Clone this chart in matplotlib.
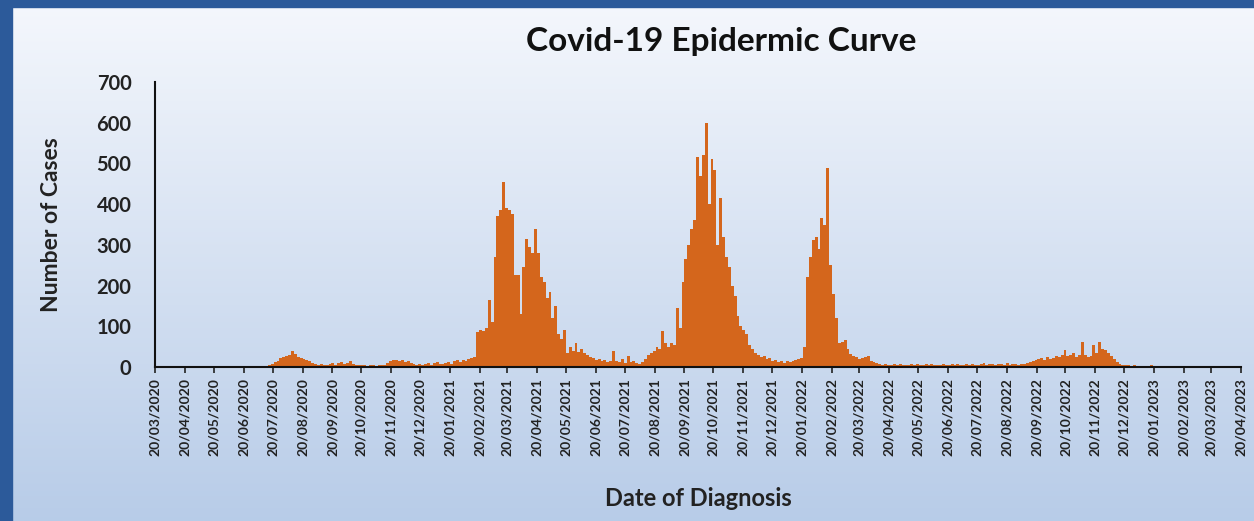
import numpy as np
import pandas as pd
import matplotlib
matplotlib.use("Agg")
import matplotlib.pyplot as plt
import matplotlib.dates as mdates
from matplotlib.patches import Rectangle

start_date = "2020-03-20"
end_date = "2023-04-20"
bin_days = 3

cases_2020 = [0, 1, 0, 2, 1, 0, 1, 3, 1, 0, 1, 2, 0, 1, 3, 2, 1, 0, 1, 2,
              1, 0, 2, 1, 1, 3, 0, 2, 1, 1, 2, 1, 0, 1, 2, 3, 1, 2, 2, 4,
              8, 12, 15, 22, 25, 28, 30, 40, 32, 25,
              22, 20, 18, 15, 10, 8, 6, 7, 5, 6,
              8, 10, 6, 9, 12, 7, 10, 14, 8, 6,
              5, 4, 6, 3, 5, 4, 3, 5, 4, 6,
              10, 14, 16, 18, 15, 17, 12, 14, 10, 8,
              6, 8, 5, 7, 10, 6, 9, 12, 7, 8]
cases_2021 = [10, 12, 8, 14, 16, 12, 18, 15, 20, 22,
              25, 85, 92, 88, 95, 165, 110, 270, 370, 385,
              455, 390, 385, 375, 225, 225, 130, 245, 315, 295,
              280, 340, 280, 220, 210, 170, 185, 120, 150, 80,
              70, 90, 35, 50, 40, 60, 38, 45, 35, 30,
              25, 22, 18, 20, 15, 18, 12, 14, 40, 15,
              12, 20, 10, 28, 12, 15, 10, 8, 12, 20,
              30, 35, 40, 50, 45, 88, 60, 50, 58, 55,
              145, 95, 210, 265, 300, 340, 360, 515, 470, 520,
              600, 400, 510, 485, 300, 415, 320, 270, 245, 200,
              175, 125, 100, 90, 80, 55, 45, 35, 30, 25,
              28, 20, 22, 15, 18, 12, 15, 10, 14, 12]
cases_2022 = [15, 18, 20, 22, 50, 222, 270, 312, 320, 290,
              365, 350, 490, 250, 180, 120, 58, 62, 66, 45,
              33, 28, 25, 20, 22, 25, 28, 15, 12, 10,
              8, 6, 7, 5, 6, 8, 5, 7, 6, 5,
              6, 7, 5, 8, 6, 5, 7, 6, 8, 5,
              6, 5, 7, 6, 5, 8, 6, 7, 5, 6,
              7, 6, 8, 5, 6, 7, 9, 6, 8, 7,
              6, 8, 7, 5, 9, 6, 8, 7, 6, 8,
              8, 10, 12, 15, 18, 20, 22, 18, 25, 20,
              22, 28, 25, 30, 41, 28, 30, 35, 25, 30,
              61, 30, 25, 28, 53, 35, 61, 45, 41, 35,
              28, 20, 12, 8, 5, 4, 5, 3, 4, 3]
cases_2023 = [2, 3, 1, 2, 4, 2, 1, 3, 2, 1,
              2, 1, 3, 2, 1, 2, 1, 2, 3, 1,
              2, 1, 1, 2, 3, 1, 2, 1, 2, 1,
              1, 2, 1, 1, 2, 1]

y_ticks = [0, 100, 200, 300, 400, 500, 600, 700]
title = "Covid-19 Epidermic Curve"
x_title = "Date of Diagnosis"
y_title = "Number of Cases"

cases = cases_2020 + cases_2021 + cases_2022 + cases_2023
bin_starts = pd.Timestamp(start_date) + pd.to_timedelta(np.arange(len(cases)) * bin_days, unit="D")
month_ticks = pd.date_range(start_date, end_date, freq=pd.DateOffset(months=1))
tick_labels = [d.strftime("%d/%m/%Y") for d in month_ticks]

plt.rcParams["font.family"] = ["Lato", "DejaVu Sans"]

fig = plt.figure(figsize=(12.54, 5.21), dpi=100)

# gradient backdrop with the blue frame
bg = fig.add_axes([0, 0, 1, 1], zorder=-10)
grad = np.linspace(0, 1, 256)[:, None]
top_col = np.array([0.96, 0.97, 0.99])
bot_col = np.array([0.72, 0.80, 0.91])
img = top_col[None, None, :] * (1 - grad[:, :, None]) + bot_col[None, None, :] * grad[:, :, None]
bg.imshow(img, aspect="auto", extent=[0, 1, 0, 1])
bg.add_patch(Rectangle((0, 0), 12 / 1254, 1, color="#2c5a9a", transform=bg.transAxes))
bg.add_patch(Rectangle((0, 1 - 7 / 521), 1, 7 / 521, color="#2c5a9a", transform=bg.transAxes))
bg.set_xlim(0, 1)
bg.set_ylim(0, 1)
bg.axis("off")

ax = fig.add_axes([155 / 1254, 154 / 521, 1086 / 1254, 285 / 521])
ax.patch.set_alpha(0)
ax.bar(mdates.date2num(bin_starts), cases, width=bin_days, align="edge",
       color="#d4661c", edgecolor="none")

ax.set_xlim(mdates.date2num(pd.Timestamp(start_date)), mdates.date2num(pd.Timestamp(end_date)))
ax.set_ylim(0, 700)
ax.set_xticks(mdates.date2num(month_ticks))
ax.set_xticklabels(tick_labels, rotation=90, fontsize=10, fontweight="bold", color="#222222")
ax.set_yticks(y_ticks)
ax.set_yticklabels([str(v) for v in y_ticks], fontsize=14.5, fontweight="bold", color="#222222")
ax.tick_params(axis="y", length=0, pad=17)
ax.tick_params(axis="x", length=4, width=1.2, color="#222222", pad=4)

for side in ["top", "right"]:
    ax.spines[side].set_visible(False)
for side in ["left", "bottom"]:
    ax.spines[side].set_color("#111111")
    ax.spines[side].set_linewidth(1.5)

ax.set_xlabel(x_title, fontsize=17, fontweight="bold", color="#222222", labelpad=22)
ax.set_ylabel(y_title, fontsize=16.5, fontweight="bold", color="#222222", labelpad=25)
fig.text(721 / 1254, 1 - 42 / 521, title, ha="center", va="center",
         fontsize=24, fontweight="bold", color="#111111")

fig.savefig("out.png", dpi=100)
